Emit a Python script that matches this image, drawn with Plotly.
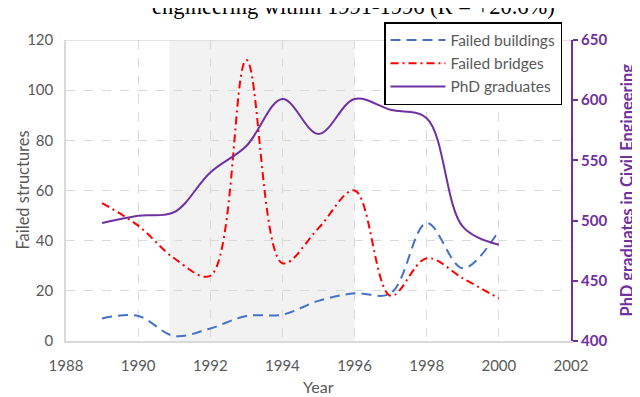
import plotly.graph_objects as go

# data
years = [1989, 1990, 1991, 1992, 1993, 1994, 1995, 1996, 1997, 1998, 1999, 2000]
failed_buildings = [9, 10, 2, 5, 10, 10.5, 16, 19, 19, 47, 29, 44]
failed_bridges = [55, 46, 33, 26, 112, 31, 45, 60, 18, 33, 25, 17]
phd_graduates = [498, 504, 507, 540, 562, 601, 572, 601, 592, 585, 495, 480]

GRAY = "#595959"
PURPLE = "#7030A0"
FONT = "Lato"

# page body has an 8px margin, so the figure is 8px smaller and margins shifted
W, H = 632, 389

fig = go.Figure()

fig.add_trace(go.Scatter(x=years, y=failed_buildings, name="Failed buildings", mode="lines",
                         line=dict(color="#4472C4", width=2, dash="10px,6px", shape="spline", smoothing=1)))
fig.add_trace(go.Scatter(x=years, y=failed_bridges, name="Failed bridges", mode="lines",
                         line=dict(color="#FF0000", width=2, dash="8px,4px,2px,4px", shape="spline", smoothing=1)))
fig.add_trace(go.Scatter(x=years, y=phd_graduates, name="PhD graduates", mode="lines", yaxis="y2",
                         line=dict(color=PURPLE, width=2, shape="spline", smoothing=1)))

# shaded period 1991-1996
fig.add_shape(type="rect", x0=1990.87, x1=1996, y0=0, y1=120, xref="x", yref="y",
              fillcolor="#F2F2F2", line_width=0, layer="below")
# top border line
fig.add_shape(type="line", x0=1988, x1=2002, y0=120, y1=120, xref="x", yref="y",
              line=dict(color="#D9D9D9", width=1.5), layer="below")

fig.update_layout(
    width=W, height=H,
    margin=dict(l=58, r=69, t=32, b=56, autoexpand=False),
    plot_bgcolor="white", paper_bgcolor="white",
    font=dict(family=FONT, color=GRAY, size=15),
    xaxis=dict(range=[1988, 2002], dtick=2, tick0=1988, showgrid=True,
               gridcolor="#D9D9D9", griddash="dash", gridwidth=1,
               showline=True, linecolor="#D9D9D9", linewidth=1.5,
               zeroline=False, ticks="", ticklabelstandoff=10,
               tickfont=dict(size=15, color=GRAY)),
    yaxis=dict(range=[0, 120], dtick=20, showgrid=True,
               gridcolor="#D9D9D9", griddash="dash", gridwidth=1,
               showline=True, linecolor="#D9D9D9", linewidth=1.5,
               zeroline=False, ticks="", ticklabelstandoff=8,
               tickfont=dict(size=15, color=GRAY)),
    yaxis2=dict(range=[400, 650], dtick=50, overlaying="y", side="right",
                showgrid=False, zeroline=False,
                showline=True, linecolor=PURPLE, linewidth=2,
                ticks="outside", ticklen=5, tickcolor=PURPLE, tickwidth=1.5,
                tickfont=dict(size=15, color=PURPLE, family=FONT, weight="bold")),
    legend=dict(x=554 / W, y=(H - 14) / H, xref="container", yref="container",
                xanchor="right", yanchor="top",
                bgcolor="white", bordercolor="black", borderwidth=1.5,
                font=dict(size=15.5, color=GRAY), tracegroupgap=0, itemwidth=55),
    showlegend=True,
)

# axis titles
fig.add_annotation(text="Year", x=0.5, y=-0.152, xref="paper", yref="paper",
                   xanchor="center", yanchor="middle", showarrow=False,
                   font=dict(family=FONT, size=16, color=GRAY))
fig.add_annotation(text="Failed structures", x=-0.087, y=0.5, xref="paper", yref="paper",
                   textangle=-90, xanchor="center", yanchor="middle", showarrow=False,
                   font=dict(family=FONT, size=16.5, color=GRAY))
fig.add_annotation(text="<b>PhD graduates in Civil Engineering</b>",
                   x=1.109, y=0.5, xref="paper", yref="paper", textangle=-90,
                   xanchor="center", yanchor="middle", showarrow=False,
                   font=dict(family=FONT, size=16.5, color=PURPLE))

# chart title (only its second line shows at the top)
fig.add_annotation(text="engineering within 1991-1996 (R = +20.6%)",
                   x=0.569, y=1.11, xref="paper", yref="paper",
                   xanchor="center", yanchor="middle", showarrow=False,
                   font=dict(family="Liberation Serif", size=22.5, color="black"))

fig.write_html("out.html")
